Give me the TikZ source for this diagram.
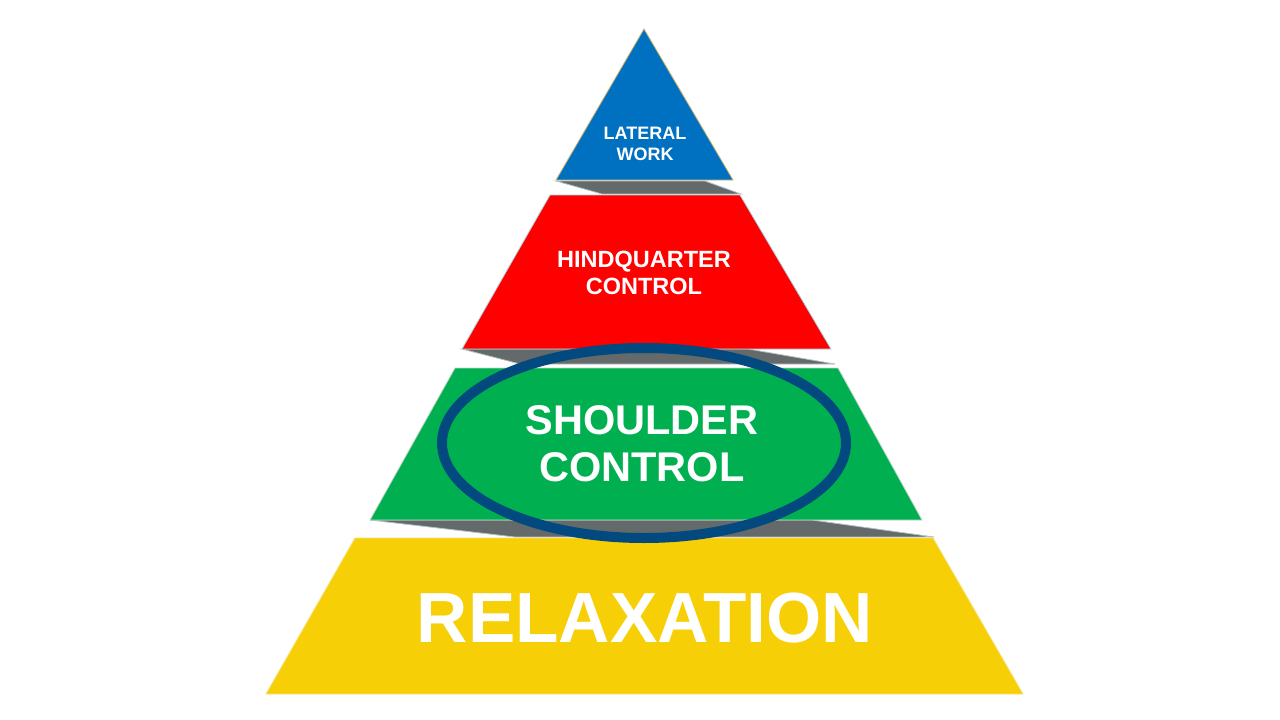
\documentclass[tikz,border=0pt]{standalone}
\usepackage{fontspec}
\setmainfont{Liberation Sans}
\definecolor{lwblue}{HTML}{0070C0}
\definecolor{hqred}{HTML}{FF0000}
\definecolor{scgreen}{HTML}{00B050}
\definecolor{rxyellow}{HTML}{F6CF06}
\definecolor{shadowgray}{HTML}{646A6A}
\definecolor{ringblue}{HTML}{02497F}
\definecolor{shadowedge}{HTML}{B4C2C6}
\definecolor{lwedge}{HTML}{D2B46E}
\definecolor{hqedge}{HTML}{A8D8E4}
\definecolor{scedge}{HTML}{C8D4CC}
\definecolor{rxedge}{HTML}{F8E07A}
\begin{document}
\begin{tikzpicture}[x=1pt,y=-1pt,
  layer/.style={line width=0.8pt, line join=miter},
  shade3d/.style={fill=shadowgray, draw=shadowedge, line width=0.8pt},
  label/.style={text=white, font=\bfseries, align=center, inner sep=0pt}]
\useasboundingbox[fill=white] (0,0) rectangle (1280,720);
% shadows
\filldraw[shade3d] (556,181) -- (705,181) -- (741,194) -- (602,194) -- cycle;
\filldraw[shade3d] (462,349) -- (748,349) -- (835,364) -- (520,364) -- cycle;
\filldraw[shade3d] (370,520) -- (812,520) -- (934,537) -- (515,537) -- cycle;
% layers
\filldraw[layer, fill=lwblue, draw=lwedge] (644,29) -- (733,180) -- (556,180) -- cycle;
\filldraw[layer, fill=hqred, draw=hqedge] (550,195) -- (740,195) -- (831,349) -- (462,349) -- cycle;
\filldraw[layer, fill=scgreen, draw=scedge] (455,368) -- (838,368) -- (922,520) -- (370,520) -- cycle;
\filldraw[layer, fill=rxyellow, draw=rxedge] (355,538) -- (933,538) -- (1023,694) -- (266,694) -- cycle;
% ring
\draw[ringblue, line width=10pt] (644,443) ellipse [x radius=202, y radius=95];
% labels
\node[label, font=\bfseries\fontsize{18}{21}\selectfont] (lw) at (645,143.5) {LATERAL\\WORK};
\node[label, font=\bfseries\fontsize{23.5}{27}\selectfont] (hq) at (644,272.5) {HINDQUARTER\\CONTROL};
\node[label, font=\bfseries\fontsize{41.5}{47}\selectfont] (sc) at (642,443.5) {SHOULDER\\CONTROL};
\node[label, font=\bfseries\fontsize{71}{80}\selectfont] (rx) at (645,618) {RELAXATION};
\end{tikzpicture}
\end{document}
